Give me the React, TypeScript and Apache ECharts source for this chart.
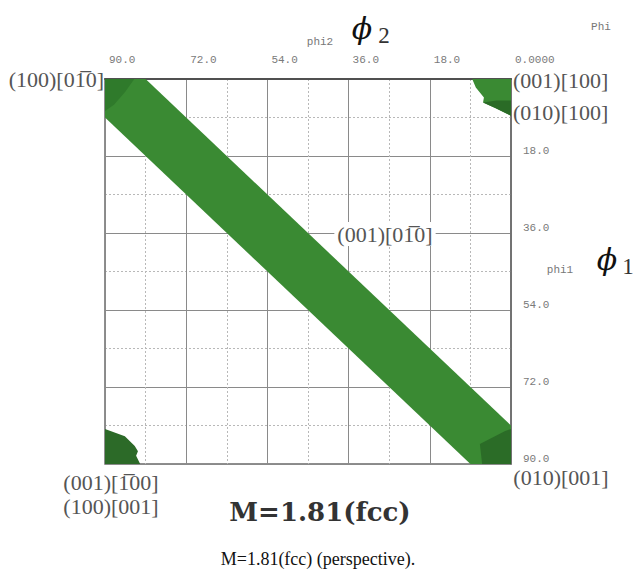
import React, { useEffect, useRef } from "react";
import * as echarts from "echarts";

// Axis ticks (degrees)
const PHI2_TICKS = [0, 18, 36, 54, 72, 90];
const PHI1_TICKS = [0, 18, 36, 54, 72, 90];
const PHI2_TICK_LABELS = ["0.0000", "18.0", "36.0", "54.0", "72.0", "90.0"];
const PHI1_TICK_LABELS = ["", "18.0", "36.0", "54.0", "72.0", "90.0"];

// Polygons in data coordinates [phi2, phi1]
const FIBRE_BAND = [[90, 0], [81, 0], [0, 81], [0, 90], [9, 90], [90, 9]];
const TOP_LEFT_CORE = [[90, 0], [83.5, 0], [85.5, 3], [88, 6], [90, 7.5]];
const TOP_RIGHT_PATCH = [[8.6, 0], [0, 0], [0, 8.6], [3.5, 6.8], [6.2, 5.5], [6.0, 4.3], [7.8, 2.0]];
const TOP_RIGHT_CORE = [[0, 5.0], [0, 8.6], [3.5, 6.8], [6.2, 5.5], [3.2, 5.0]];
const BOTTOM_LEFT_PATCH = [[90, 81.8], [85.6, 83.5], [83.4, 85.8], [82.7, 87], [83.1, 88.1], [82.2, 90], [90, 90]];
const BOTTOM_RIGHT_CORE = [[6.9, 85.3], [1.3, 82.3], [0, 81.8], [0, 90], [6.4, 90]];

const POLYGONS = [FIBRE_BAND, TOP_LEFT_CORE, TOP_RIGHT_PATCH, TOP_RIGHT_CORE, BOTTOM_LEFT_PATCH, BOTTOM_RIGHT_CORE];
const POLYGON_COLORS = ["#3a8a33", "#2f7a2b", "#3a8a33", "#2a6b26", "#2c6a28", "#2b6c27"];

// Annotations
const ORIENTATION_LABELS = [
  "(100)[0\u0031\u03050]",
  "(001)[100]",
  "(010)[100]",
  "(001)[\u0031\u030500]",
  "(100)[001]",
  "(010)[001]",
  "(001)[0\u0031\u03050]",
];
const MAIN_TITLE = "M=1.81(fcc)";
const CAPTION = "M=1.81(fcc) (perspective).";

export default function App() {
  const ref = useRef<HTMLDivElement>(null);

  useEffect(() => {
    if (!ref.current) return;
    const chart = echarts.init(ref.current, null, { renderer: "svg" });
    const mono = "'Liberation Mono', 'DejaVu Sans Mono', monospace";
    const serif = "'Liberation Serif', 'DejaVu Serif', serif";
    const tickFmt = (ticks: number[], labels: string[]) => (v: number) => {
      const i = ticks.indexOf(v);
      return i >= 0 ? labels[i] : "";
    };
    const txt = (text: string, x: number, y: number, font: string, fill: string, align = "center", extra: any = {}) => ({
      type: "text",
      x,
      y,
      z: 100,
      style: { text, fill, font, align, verticalAlign: "middle", ...extra },
    });
    const lblFont = `22px ${serif}`;
    const phiFont = `italic 30px 'DejaVu Serif', serif`;

    chart.setOption({
      animation: false,
      backgroundColor: "#ffffff",
      grid: {
        left: 105,
        top: 79,
        width: 406,
        height: 385,
        show: true,
        borderColor: "#6a6a6a",
        borderWidth: 1.5,
        backgroundColor: "transparent",
      },
      xAxis: {
        type: "value",
        position: "top",
        min: 0,
        max: 90,
        interval: 18,
        inverse: true,
        axisLine: { show: true, lineStyle: { color: "#505050", width: 2 } },
        axisTick: { show: false },
        axisLabel: {
          formatter: tickFmt(PHI2_TICKS, PHI2_TICK_LABELS),
          align: "left",
          padding: [0, 0, 0, 4],
          margin: 14,
          color: "#7a7a7a",
          fontFamily: mono,
          fontSize: 11,
        },
        splitLine: { show: true, lineStyle: { color: "#8a8a8a", width: 1 } },
        minorTick: { show: false, splitNumber: 2 },
        minorSplitLine: { show: true, lineStyle: { color: "#b8b8b8", width: 1, type: [2, 2] } },
      },
      yAxis: {
        type: "value",
        position: "right",
        min: 0,
        max: 90,
        interval: 18,
        inverse: true,
        axisLine: { show: true, lineStyle: { color: "#6a6a6a", width: 1.5 } },
        axisTick: { show: false },
        axisLabel: {
          formatter: tickFmt(PHI1_TICKS, PHI1_TICK_LABELS),
          verticalAlign: "bottom",
          margin: 12,
          color: "#7a7a7a",
          fontFamily: mono,
          fontSize: 11,
        },
        splitLine: { show: true, lineStyle: { color: "#8a8a8a", width: 1 } },
        minorTick: { show: false, splitNumber: 2 },
        minorSplitLine: { show: true, lineStyle: { color: "#b8b8b8", width: 1, type: [2, 2] } },
      },
      series: [
        {
          type: "custom",
          coordinateSystem: "cartesian2d",
          clip: true,
          data: POLYGONS.map((p) => p[0]),
          renderItem: (params: any, api: any) => {
            const poly = POLYGONS[params.dataIndex];
            const points = poly.map((pt) => api.coord(pt));
            return {
              type: "polygon",
              shape: { points },
              style: { fill: POLYGON_COLORS[params.dataIndex], stroke: null },
            };
          },
          z: 2,
        },
      ],
      graphic: [
        txt(ORIENTATION_LABELS[0], 104, 79, lblFont, "#555", "right"),
        txt(ORIENTATION_LABELS[1], 513, 80, lblFont, "#555", "left"),
        txt(ORIENTATION_LABELS[2], 513, 112, lblFont, "#555", "left"),
        txt(ORIENTATION_LABELS[3], 111, 482, lblFont, "#555", "center"),
        txt(ORIENTATION_LABELS[4], 111, 506, lblFont, "#555", "center"),
        txt(ORIENTATION_LABELS[5], 561, 477, lblFont, "#555", "center"),
        txt(ORIENTATION_LABELS[6], 385, 234, lblFont, "#555", "center", {
          backgroundColor: "#ffffff",
          padding: [1, 3, 1, 3],
        }),
        txt("phi2", 320, 42, `11px ${mono}`, "#777"),
        txt("\u03D5", 362, 28, phiFont, "#111"),
        txt("2", 384, 35, `23px ${serif}`, "#333"),
        txt("Phi", 601, 27, `11px ${mono}`, "#777"),
        txt("phi1", 560, 270, `11px ${mono}`, "#777"),
        txt("\u03D5", 607, 259, phiFont, "#111"),
        txt("1", 628, 266, `23px ${serif}`, "#333"),
        txt(MAIN_TITLE, 320, 512, `bold 26px 'DejaVu Serif', serif`, "#333"),
        txt(CAPTION, 318, 559, `18px ${serif}`, "#111"),
      ],
    });
    return () => chart.dispose();
  }, []);

  return (
    <div
      ref={ref}
      style={{ position: "fixed", left: 0, top: 0, width: 637, height: 579, background: "#fff" }}
    />
  );
}
